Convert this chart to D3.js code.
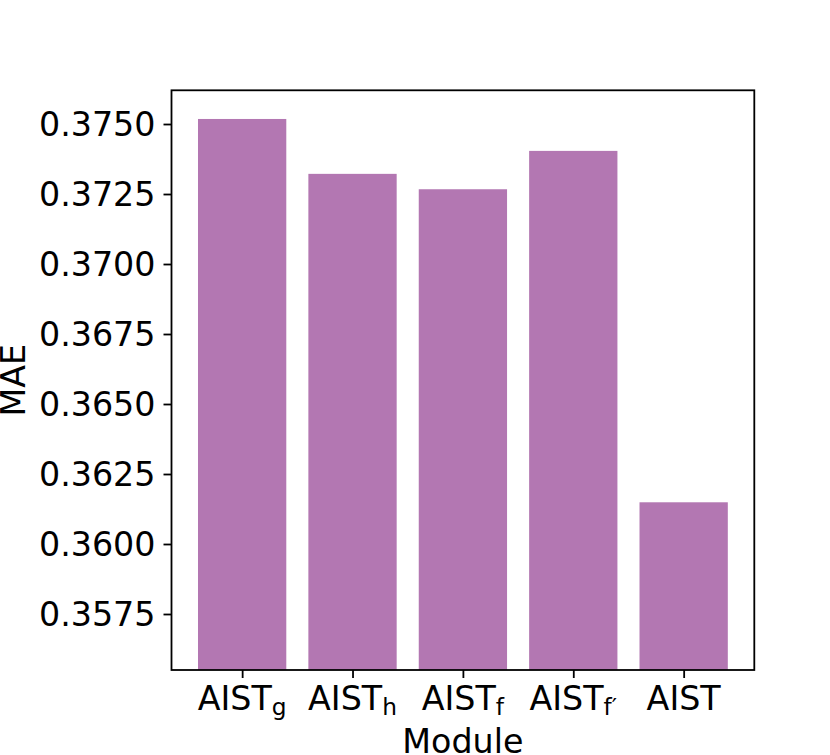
<!DOCTYPE html>
<html>
<head>
<meta charset="utf-8">
<script src="https://cdn.jsdelivr.net/npm/d3@7"></script>
<style>
  body { margin: 0; background: #fff; }
  text { font-family: "DejaVu Sans", sans-serif; fill: #000; }
</style>
</head>
<body>
<svg id="chart" width="830" height="755"></svg>
<script>
'use strict';

// chart data
const modules = ['g', 'h', 'f', 'f\u2032', ''];
const mae = [0.37518, 0.37322, 0.37267, 0.37404, 0.36149];
const yTicks = [0.3575, 0.3600, 0.3625, 0.3650, 0.3675, 0.3700, 0.3725, 0.3750];

const BAR_COLOR = '#b377b2';
const FONT = 33.3;
const TICK = 8;
const LINE_W = 1.8;

const plotLeft = 171.5, plotRight = 754.3, plotTop = 90.3, plotBottom = 670;

let svg = d3.select('#chart');

let x = d3.scaleLinear()
  .domain([-0.64, modules.length - 1 + 0.64])
  .range([plotLeft, plotRight]);

let y = d3.scaleLinear()
  .domain([0.3555, 0.376204])
  .range([plotBottom, plotTop]);

// bars
svg.append('g')
  .selectAll('rect')
  .data(mae)
  .enter().append('rect')
    .attr('x', function(d, i) { return x(i - 0.4); })
    .attr('width', function(d, i) { return x(i + 0.4) - x(i - 0.4); })
    .attr('y', function(d) { return y(d); })
    .attr('height', function(d) { return plotBottom - y(d); })
    .attr('fill', BAR_COLOR);

// y axis
let yAxis = d3.axisLeft(y)
  .tickValues(yTicks)
  .tickFormat(d3.format('.4f'))
  .tickSize(TICK)
  .tickPadding(TICK);

let gy = svg.append('g')
  .attr('transform', 'translate(' + plotLeft + ',0)')
  .call(yAxis);
gy.select('.domain').remove();
gy.selectAll('line').attr('stroke', '#000').attr('stroke-width', LINE_W);
gy.selectAll('text')
  .attr('font-size', FONT)
  .attr('font-family', 'DejaVu Sans')
  .attr('dy', '0.35em');

// x axis (ticks only, labels drawn with subscripts below)
let xAxis = d3.axisBottom(x)
  .tickValues(d3.range(modules.length))
  .tickFormat('')
  .tickSize(TICK);

let gx = svg.append('g')
  .attr('transform', 'translate(0,' + plotBottom + ')')
  .call(xAxis);
gx.select('.domain').remove();
gx.selectAll('line').attr('stroke', '#000').attr('stroke-width', LINE_W);

let labels = svg.append('g')
  .selectAll('text')
  .data(modules)
  .enter().append('text')
    .attr('x', function(d, i) { return x(i); })
    .attr('y', 710)
    .attr('text-anchor', 'middle')
    .attr('font-size', FONT);

labels.append('tspan').text('AIST');
labels.filter(function(d) { return d !== ''; })
  .append('tspan')
    .attr('dy', 5)
    .attr('font-size', FONT * 0.7)
    .text(function(d) { return d; });

// frame
svg.append('rect')
  .attr('x', plotLeft)
  .attr('y', plotTop)
  .attr('width', plotRight - plotLeft)
  .attr('height', plotBottom - plotTop)
  .attr('fill', 'none')
  .attr('stroke', '#000')
  .attr('stroke-width', LINE_W);

// axis titles
svg.append('text')
  .attr('x', (plotLeft + plotRight) / 2)
  .attr('y', 752.5)
  .attr('text-anchor', 'middle')
  .attr('font-size', FONT)
  .text('Module');

svg.append('text')
  .attr('transform', 'translate(25,' + ((plotTop + plotBottom) / 2) + ') rotate(-90)')
  .attr('text-anchor', 'middle')
  .attr('font-size', FONT)
  .text('MAE');
</script>
</body>
</html>
